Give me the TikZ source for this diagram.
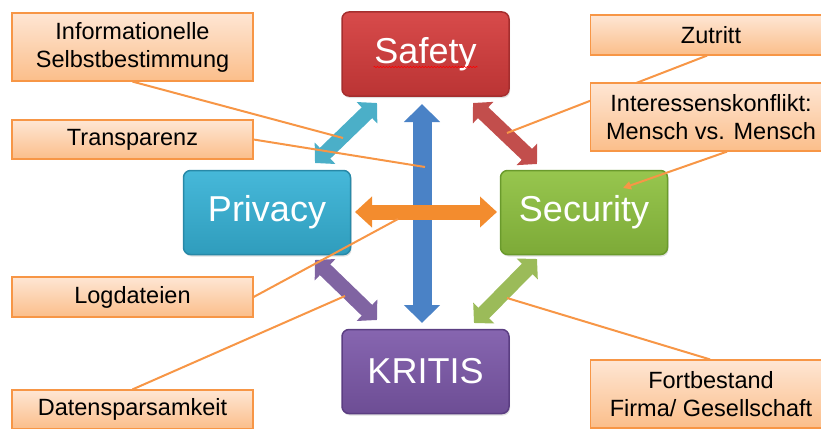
\documentclass[tikz,border=0pt]{standalone}
\usepackage{fontspec}
\setmainfont{Liberation Sans}
\usetikzlibrary{arrows.meta,shadows,decorations.pathmorphing,calc}

\definecolor{calloutline}{HTML}{F79646}
\definecolor{callouttop}{HTML}{FEE6D4}
\definecolor{calloutbot}{HTML}{FBBE8A}
\definecolor{safetymain}{HTML}{D43B3B}
\definecolor{safetydark}{HTML}{A52E2E}
\definecolor{privmain}{HTML}{36B2D6}
\definecolor{privdark}{HTML}{2889A8}
\definecolor{secmain}{HTML}{8EC13F}
\definecolor{secdark}{HTML}{6A9A2C}
\definecolor{kritmain}{HTML}{7C58A9}
\definecolor{kritdark}{HTML}{5B3E82}
\definecolor{arrcyan}{HTML}{4BAFC8}
\definecolor{arrred}{HTML}{C24E4C}
\definecolor{arrblue}{HTML}{4A82C6}
\definecolor{arrorange}{HTML}{F38C2E}
\definecolor{arrpurple}{HTML}{8064A2}
\definecolor{arrgreen}{HTML}{9BBB59}

\pgfdeclarelayer{bg}
\pgfdeclarelayer{mid}
\pgfsetlayers{bg,mid,main}

\begin{document}
\begin{tikzpicture}[x=1pt,y=-1pt,
  mainbox/.style={rounded corners=7pt, minimum width=167pt, minimum height=84pt,
    inner sep=0pt, text=white, font=\fontsize{36}{40}\selectfont, line width=1.5pt,
    drop shadow={opacity=0.25, shadow xshift=1pt, shadow yshift=-2pt}},
  callout/.style={draw=calloutline, line width=1.2pt, top color=callouttop,
    bottom color=calloutbot, minimum width=241pt, inner sep=0pt, align=center,
    font=\fontsize{23.5}{28}\selectfont, text=black},
  conn/.style={draw=calloutline, line width=2pt},
  diagarrow/.style={line width=15pt,
    {Triangle[width=29pt,length=14pt]}-{Triangle[width=29pt,length=14pt]}},
]
\useasboundingbox (0,0) rectangle (821,428);
\clip (0,0) rectangle (821,428);

% callout boxes (top layer)
\node[callout, minimum height=68pt] (info) at (132.5,47) {Informationelle\\Selbstbestimmung};
\node[callout, minimum height=39pt] (transp) at (132.5,139.5) {Transparenz};
\node[callout, minimum height=40pt] (log) at (132.5,297) {Logdateien};
\node[callout, minimum height=39pt] (daten) at (132.5,409.5) {Datensparsamkeit};
\node[callout, minimum height=40pt] (zut) at (711,35) {Zutritt};
\node[callout, minimum height=68pt] (ik) at (711,117) {Interessenskonflikt:\\Mensch vs. Mensch};
\node[callout, minimum height=68pt] (fort) at (711,394) {Fortbestand\\Firma/ Gesellschaft};

\begin{pgfonlayer}{bg}
% main boxes
\node[mainbox, draw=safetydark, top color=safetymain!92!white, middle color=safetymain, bottom color=safetymain!88!black] (safety) at (425.5,54) {Safety};
\node[mainbox, draw=privdark, top color=privmain!92!white, middle color=privmain, bottom color=privmain!88!black] (privacy) at (267,212.5) {Privacy};
\node[mainbox, draw=secdark, top color=secmain!92!white, middle color=secmain, bottom color=secmain!88!black] (security) at (584,212.5) {Security};
\node[mainbox, draw=kritdark, top color=kritmain!92!white, middle color=kritmain, bottom color=kritmain!88!black] (kritis) at (425.5,371.5) {KRITIS};

\draw[red, line width=0.5pt, decorate, decoration={snake, amplitude=0.7pt, segment length=3pt}]
  ($(safety.center)+(-52,13)$) -- ($(safety.center)+(52,13)$);

% block arrows
\coordinate (cyA) at (315,163); \coordinate (cyB) at (377,103);
\coordinate (reA) at (473,103); \coordinate (reB) at (537,164);
\coordinate (blA) at (422,104); \coordinate (blB) at (422,323);
\coordinate (orA) at (355,212); \coordinate (orB) at (497,212);
\coordinate (puA) at (315,260); \coordinate (puB) at (377,320);
\coordinate (grA) at (537,259); \coordinate (grB) at (474,323);

\draw[diagarrow, arrcyan] (cyA) -- (cyB);
\draw[diagarrow, arrred] (reA) -- (reB);
\draw[diagarrow, arrpurple] (puA) -- (puB);
\draw[diagarrow, arrgreen] (grA) -- (grB);
\draw[line width=19pt, arrblue, {Triangle[width=35pt,length=18pt]}-{Triangle[width=35pt,length=18pt]}] (blA) -- (blB);
\draw[line width=15pt, arrorange, {Triangle[width=30pt,length=17pt]}-{Triangle[width=30pt,length=17pt]}] (orA) -- (orB);
\end{pgfonlayer}

% callout anchors
\coordinate (c1) at (343,138);
\coordinate (c2) at (425,167);
\coordinate (c3) at (507,133);
\coordinate (c4) at (623,188);
\coordinate (c5) at (398,219);
\coordinate (c6) at (345,296);
\coordinate (c7) at (507,298);

\begin{pgfonlayer}{mid}
\draw[conn] (info.south) -- (c1);
\draw[conn] (transp.east) -- (c2);
\draw[conn] ([xshift=-4pt]zut.south) -- (c3);
\draw[conn, -{Triangle[length=8pt,width=8pt]}] ([xshift=16pt]ik.south) -- (c4);
\draw[conn] (log.east) -- (c5);
\draw[conn] (daten.north) -- (c6);
\draw[conn] ([xshift=-1pt]fort.north) -- (c7);
\end{pgfonlayer}
\end{tikzpicture}
\end{document}
